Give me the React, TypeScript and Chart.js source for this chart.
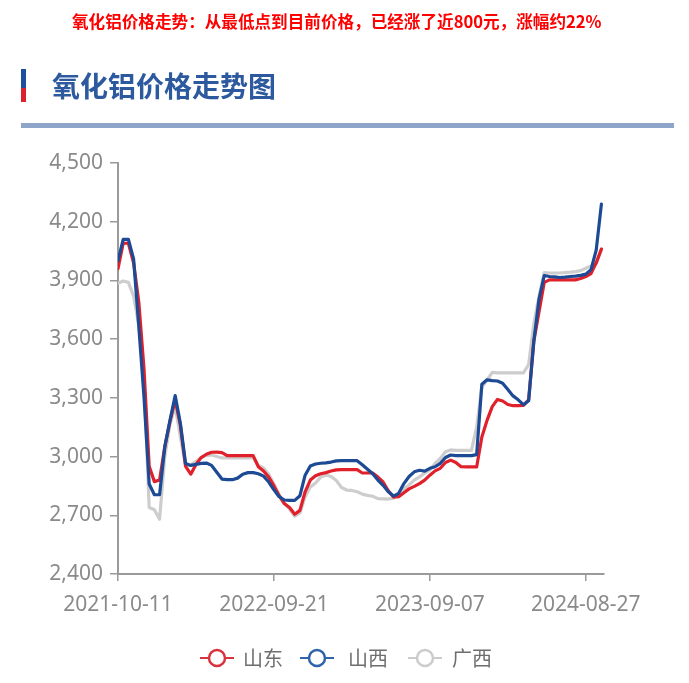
import React, { useEffect, useRef } from 'react';
import { Chart, registerables } from 'chart.js';

Chart.register(...registerables);

// ---- data ----
const tickLabels = ['2021-10-11', '2022-09-21', '2023-09-07', '2024-08-27'];
const tickIndex = [0, 30, 60, 90];
const yTicks = [2400, 2700, 3000, 3300, 3600, 3900, 4200, 4500];
const seriesNames = ['山东', '山西', '广西'];

const shandong = [
  3960, 4090, 4090, 3990, 3790, 3450, 2950, 2872, 2880, 3050,
  3180, 3290, 3160, 2950, 2910, 2960, 2995, 3012, 3022, 3023,
  3020, 3005, 3005, 3005, 3005, 3005, 3005, 2948, 2926, 2895,
  2850, 2800, 2760, 2740, 2705, 2725, 2820, 2880, 2902, 2912,
  2918, 2926, 2932, 2933, 2933, 2933, 2933, 2916, 2916, 2916,
  2895, 2870, 2825, 2793, 2795, 2815, 2835, 2848, 2862, 2880,
  2905, 2927, 2940, 2970, 2982, 2970, 2948, 2947, 2947, 2947,
  3100, 3185, 3255, 3292, 3284, 3266, 3260, 3260, 3262, 3290,
  3590, 3740, 3890, 3903, 3903, 3903, 3903, 3903, 3903, 3910,
  3920, 3935, 3990, 4060,
];

const shanxi = [
  4000, 4110, 4110, 4010, 3665, 3305, 2860, 2805, 2805, 3050,
  3185, 3312, 3170, 2965, 2955, 2960, 2965, 2967, 2955, 2920,
  2885, 2882, 2882, 2890, 2910, 2918, 2918, 2912, 2900, 2870,
  2830, 2795, 2778, 2776, 2776, 2800, 2905, 2952, 2962, 2966,
  2968, 2972, 2978, 2979, 2979, 2979, 2979, 2958, 2935, 2912,
  2880, 2853, 2820, 2798, 2812, 2862, 2898, 2922, 2930, 2926,
  2940, 2948, 2965, 2995, 3008, 3005, 3005, 3005, 3005, 3010,
  3370, 3392, 3388, 3386, 3375, 3343, 3310, 3290, 3265, 3285,
  3590, 3805, 3925, 3920, 3918, 3915, 3917, 3920, 3922, 3926,
  3932, 3955, 4055, 4290,
];

const guangxi = [
  3885, 3897, 3890, 3820, 3670, 3400, 2740, 2728, 2680, 3000,
  3165, 3257, 3100, 2955, 2958, 2975, 2995, 3005, 3008, 3000,
  2993, 2993, 2993, 2993, 2993, 2993, 2993, 2955, 2942, 2910,
  2860, 2805, 2760, 2732, 2695, 2712, 2795, 2845, 2865, 2895,
  2906, 2898, 2878, 2842, 2829, 2827, 2820, 2808, 2802, 2797,
  2785, 2784, 2783, 2788, 2812, 2835, 2855, 2880, 2896, 2915,
  2932, 2965, 2990, 3025, 3034, 3032, 3032, 3032, 3032, 3150,
  3355, 3390, 3430, 3428, 3428, 3428, 3428, 3428, 3428, 3470,
  3680, 3820, 3940, 3938, 3938, 3938, 3940, 3942, 3945, 3950,
  3962, 3974, 3985, 4060,
];

const lineColors = ['#e0202a', '#1d4a94', '#cdcdcd'];
const legendColors = ['#d8333f', '#2f63ab', '#cccccc'];
const FONT = '"Noto Sans", "Noto Sans CJK SC", sans-serif';
const CJK = '"Noto Sans CJK SC", sans-serif';

const toPoints = (arr: number[]) => arr.map((v, i) => ({ x: i, y: v }));

function LegendIcon({ color }: { color: string }) {
  return (
    <svg width={34} height={22} style={{ display: 'block' }}>
      <line x1={0} y1={11} x2={34} y2={11} stroke={color} strokeWidth={2} />
      <circle cx={17} cy={11} r={8} fill="#fff" stroke={color} strokeWidth={2.5} />
    </svg>
  );
}

export default function App() {
  const ref = useRef<HTMLCanvasElement | null>(null);

  useEffect(() => {
    if (!ref.current) return;
    const chart = new Chart(ref.current, {
      type: 'line',
      data: {
        datasets: [
          { label: seriesNames[1], data: toPoints(shanxi), borderColor: lineColors[1], order: 0 },
          { label: seriesNames[0], data: toPoints(shandong), borderColor: lineColors[0], order: 1 },
          { label: seriesNames[2], data: toPoints(guangxi), borderColor: lineColors[2], order: 2 },
        ],
      },
      options: {
        animation: false,
        responsive: false,
        maintainAspectRatio: false,
        devicePixelRatio: 1,
        layout: { padding: { top: 163, right: 85, bottom: 0, left: 0 } },
        plugins: { legend: { display: false }, tooltip: { enabled: false } },
        elements: {
          point: { radius: 0 },
          line: { borderWidth: 3.2, tension: 0, borderCapStyle: 'round', borderJoinStyle: 'round', fill: false },
        },
        scales: {
          x: {
            type: 'linear',
            min: 0,
            max: 93.5,
            afterBuildTicks: (s: any) => {
              s.ticks = tickIndex.map((v) => ({ value: v }));
            },
            afterFit: (s: any) => {
              s.height = 109;
            },
            ticks: {
              autoSkip: false,
              maxRotation: 0,
              padding: 11,
              color: '#8a8a8a',
              font: { size: 21, family: FONT },
              callback: (v: any) => {
                const k = tickIndex.indexOf(Number(v));
                return k >= 0 ? tickLabels[k] : '';
              },
            },
            grid: { drawOnChartArea: false, drawTicks: true, tickLength: 7, color: '#9a9a9a', lineWidth: 1.5 },
            border: { display: true, color: '#9a9a9a', width: 2 },
          },
          y: {
            type: 'linear',
            min: 2400,
            max: 4500,
            afterBuildTicks: (s: any) => {
              s.ticks = yTicks.map((v) => ({ value: v }));
            },
            afterFit: (s: any) => {
              s.width = 118;
            },
            ticks: {
              padding: 7,
              color: '#8a8a8a',
              font: { size: 21, family: FONT },
              callback: (v: any) => Number(v).toLocaleString('en-US'),
            },
            grid: { drawOnChartArea: false, drawTicks: true, tickLength: 8, color: '#9a9a9a', lineWidth: 1.5 },
            border: { display: true, color: '#9a9a9a', width: 2 },
          },
        },
      } as any,
    });
    return () => chart.destroy();
  }, []);

  const legendItems = [
    { name: seriesNames[0], color: legendColors[0], icon: 200, text: 243 },
    { name: seriesNames[1], color: legendColors[1], icon: 300, text: 348 },
    { name: seriesNames[2], color: legendColors[2], icon: 408, text: 452 },
  ];

  return (
    <div style={{ position: 'fixed', left: 0, top: 0, width: 689, height: 683, background: '#fff', overflow: 'hidden' }}>
      <canvas ref={ref} width={689} height={683} style={{ position: 'absolute', left: 0, top: 0, width: 689, height: 683 }} />
      <div
        style={{
          position: 'absolute', left: 72, top: 10, font: `bold 16.6px ${CJK}`, lineHeight: '22px',
          color: '#ff0000', whiteSpace: 'nowrap',
        }}
      >
        氧化铝价格走势：从最低点到目前价格，已经涨了近800元，涨幅约22%
      </div>
      <div style={{ position: 'absolute', left: 21, top: 69, width: 5, height: 19, background: '#1d4f9c' }} />
      <div style={{ position: 'absolute', left: 21, top: 88, width: 5, height: 14, background: '#d9232d' }} />
      <div
        style={{
          position: 'absolute', left: 52, top: 67, font: `bold 28px ${CJK}`, lineHeight: '36px',
          color: '#2d5a9e', whiteSpace: 'nowrap',
        }}
      >
        氧化铝价格走势图
      </div>
      <div style={{ position: 'absolute', left: 21, top: 123, width: 653, height: 5, background: '#8fa4c9' }} />
      {legendItems.map((it) => (
        <React.Fragment key={it.name}>
          <div style={{ position: 'absolute', left: it.icon, top: 647 }}>
            <LegendIcon color={it.color} />
          </div>
          <div
            style={{
              position: 'absolute', left: it.text, top: 644, font: `20px ${CJK}`, lineHeight: '28px',
              color: '#6e6e6e', whiteSpace: 'nowrap',
            }}
          >
            {it.name}
          </div>
        </React.Fragment>
      ))}
    </div>
  );
}
